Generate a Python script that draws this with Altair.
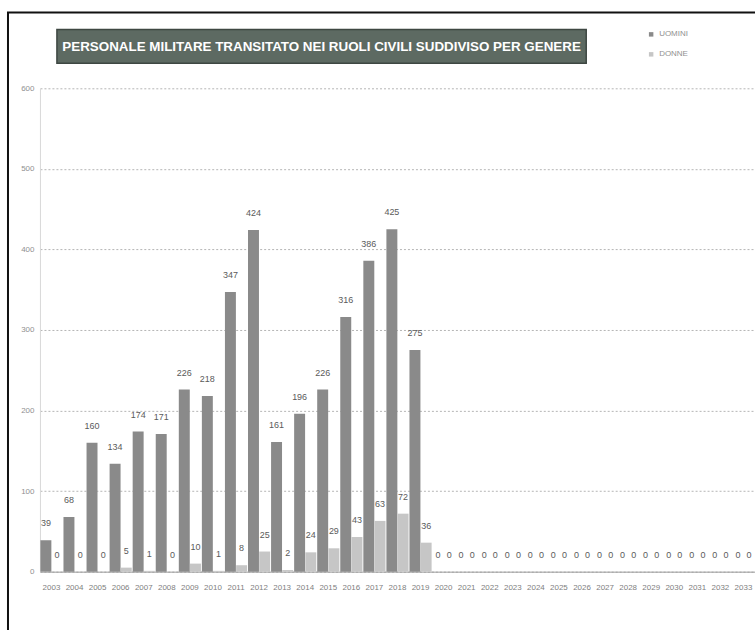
import altair as alt
import pandas as pd

years = [str(y) for y in range(2003, 2034)]
uomini = [39, 68, 160, 134, 174, 171, 226, 218, 347, 424, 161, 196, 226, 316, 386, 425, 275] + [0] * 14
donne = [0, 0, 0, 5, 1, 0, 10, 1, 8, 25, 2, 24, 29, 43, 63, 72, 36] + [0] * 14
series = ["UOMINI", "DONNE"]
colors = ["#8a8a8a", "#c6c6c6"]
title_text = "PERSONALE MILITARE TRANSITATO NEI RUOLI CIVILI SUDDIVISO PER GENERE"

rows = []
for i, y in enumerate(years):
    rows.append({"anno": y, "genere": "UOMINI", "valore": uomini[i]})
    rows.append({"anno": y, "genere": "DONNE", "valore": donne[i]})
df = pd.DataFrame(rows)

W, H = 716, 484
FONT = "Liberation Sans Narrow, Liberation Sans"

x = alt.X("anno:N", sort=years,
          scale=alt.Scale(paddingInner=0.04, paddingOuter=0.02),
          axis=alt.Axis(title=None, labelAngle=0, labelFontSize=8, labelColor="#808080",
                        labelFont=FONT, ticks=False, domain=True, domainColor="#9a9a9a",
                        labelPadding=12, grid=False))
xo = alt.XOffset("genere:N", sort=series, scale=alt.Scale(paddingInner=0.02, paddingOuter=0))
y = alt.Y("valore:Q", scale=alt.Scale(domain=[0, 600], nice=False),
          axis=alt.Axis(title=None, values=[0, 100, 200, 300, 400, 500, 600], labelFontSize=8,
                        labelColor="#909090", labelFont=FONT, ticks=False, domain=True,
                        domainColor="#d8d8d8", labelPadding=6, grid=True, gridColor="#b5b5b5",
                        gridDash=[2, 2], gridWidth=1))
color = alt.Color("genere:N", sort=series, scale=alt.Scale(domain=series, range=colors),
                  legend=alt.Legend(title=None, orient="none", legendX=608, legendY=-58,
                                    symbolType="square", symbolSize=20, labelFontSize=8,
                                    labelColor="#909090", labelFont=FONT, rowPadding=12,
                                    symbolStrokeWidth=0))

bars = alt.Chart(df).mark_bar().encode(x=x, xOffset=xo, y=y, color=color)
labels = alt.Chart(df).mark_text(baseline="bottom", dy=-12, fontSize=9, color="#5a5a5a",
                                 font=FONT).encode(
    x=alt.X("anno:N", sort=years), xOffset=alt.XOffset("genere:N", sort=series),
    y="valore:Q", text="valore:Q")

title_df = pd.DataFrame({"t": [title_text]})
title_box = alt.Chart(title_df).mark_rect(fill="#5d6a62", stroke="#3e4742", strokeWidth=1.5).encode(
    x=alt.value(17), x2=alt.value(547), y=alt.value(-59), y2=alt.value(-25))
title_txt = alt.Chart(title_df).mark_text(fontSize=13.4, fontWeight="bold", color="white",
                                          font="Liberation Sans", align="center",
                                          baseline="middle").encode(
    x=alt.value(282), y=alt.value(-41.5), text="t:N")
frame = alt.Chart(title_df).mark_rect(fill=None, stroke="#111111", strokeWidth=2).encode(
    x=alt.value(-32), x2=alt.value(760), y=alt.value(-76), y2=alt.value(600))

chart = alt.layer(frame, title_box, title_txt, bars, labels).properties(
    width=W, height=H,
    autosize=alt.AutoSizeParams(type="none"),
    padding={"left": 40, "top": 88, "right": 0, "bottom": 58},
    background="white",
).configure_view(stroke=None)

chart.save("out.html", embed_options={"renderer": "svg", "actions": False})
